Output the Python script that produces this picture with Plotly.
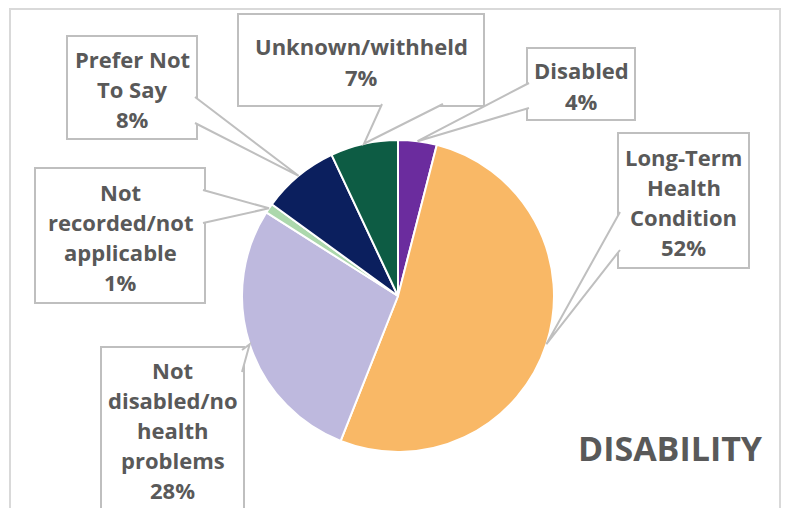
import math
import plotly.graph_objects as go

# ---- data ----
labels = ["Disabled", "Long-Term Health Condition", "Not disabled/no health problems",
          "Not recorded/not applicable", "Prefer Not To Say", "Unknown/withheld"]
box_lines = [["Disabled", "4%"],
             ["Long-Term", "Health", "Condition", "52%"],
             ["Not", "disabled/no", "health", "problems", "28%"],
             ["Not", "recorded/not", "applicable", "1%"],
             ["Prefer Not", "To Say", "8%"],
             ["Unknown/withheld", "7%"]]
values = [4, 52, 28, 1, 8, 7]
colors = ["#6B2C9E", "#F9B866", "#BEB9DE", "#ACD8AC", "#0B1F5E", "#0D5C44"]
title_text = "DISABILITY"

# ---- layout (pixels) ----
W, H = 789, 508
CX, CY, R = 398, 296, 156
LINE_GAP = 30.2

def px(x, y):
    return x / W, 1 - y / H

# boxes: (x0, y0, x1, y1), wedge base points on box edge, inward offset direction
boxes = [
    ((527, 48, 635, 120), ((527, 83), (527, 108)), (1, 0)),
    ((618, 133, 749, 268), ((618, 212), (618, 250)), (1, 0)),
    ((101, 347, 244, 510), ((244, 350), (244, 372)), (-1, 0)),
    ((35, 168, 205, 303), ((205, 190), (205, 223)), (-1, 0)),
    ((67, 36, 197, 139), ((197, 97), (197, 123)), (-1, 0)),
    ((238, 14, 484, 106), ((382, 106), (443, 106)), (0, -1)),
]

dx0, dy_bottom = px(CX - R, CY + R)
dx1, dy_top = px(CX + R, CY - R)

fig = go.Figure(go.Pie(
    labels=labels, values=values, sort=False, direction="clockwise", rotation=0,
    marker=dict(colors=colors, line=dict(color="white", width=2)),
    textinfo="none", hoverinfo="label+percent", showlegend=False,
    domain=dict(x=[dx0, dx1], y=[dy_bottom, dy_top]),
))

shapes = []
# outer frame
fx0, fy0 = px(10, 9)
fx1, fy1 = px(780, 530)
shapes.append(dict(type="rect", xref="paper", yref="paper", x0=fx0, y0=fy1, x1=fx1, y1=fy0,
                   line=dict(color="#D9D9D9", width=2), fillcolor="rgba(0,0,0,0)", layer="below"))

annotations = []
total = sum(values)
cum = 0
for i, v in enumerate(values):
    mid = (cum + v / 2) / total * 2 * math.pi
    cum += v
    tx = CX + R * math.sin(mid)
    ty = CY - R * math.cos(mid)
    (bx0, by0, bx1, by1), (b1, b2), (ddx, ddy) = boxes[i]
    # box
    a, b = px(bx0, by0)
    c, d = px(bx1, by1 + 15 if by1 > 500 else by1)
    shapes.append(dict(type="rect", xref="paper", yref="paper", x0=a, y0=d, x1=c, y1=b,
                       line=dict(color="#BFBFBF", width=2), fillcolor="white", layer="above"))
    # wedge
    p1 = px(b1[0] + 2 * ddx, b1[1] + 2 * ddy)
    p2 = px(b2[0] + 2 * ddx, b2[1] + 2 * ddy)
    pt = px(tx, ty)
    path = f"M {p1[0]},{p1[1]} L {pt[0]},{pt[1]} L {p2[0]},{p2[1]}"
    shapes.append(dict(type="path", xref="paper", yref="paper", path=path,
                       line=dict(color="#BFBFBF", width=2), fillcolor="white", layer="above"))
    lines = box_lines[i]
    n = len(lines)
    cxb = (bx0 + bx1) / 2
    cyb = (by0 + by1) / 2 + 1.5
    for k, line in enumerate(lines):
        ly = cyb + (k - (n - 1) / 2) * LINE_GAP
        xp, yp = px(cxb, ly)
        annotations.append(dict(text=line, x=xp, y=yp, xref="paper", yref="paper",
                                xanchor="center", yanchor="middle", showarrow=False,
                                font=dict(family="Open Sans", size=22, color="#595959", weight=700)))

tx_, ty_ = px(670, 448)
annotations.append(dict(text=title_text, x=tx_, y=ty_, xref="paper", yref="paper",
                        xanchor="center", yanchor="middle", showarrow=False,
                        font=dict(family="Open Sans", size=34, color="#595959", weight=700)))

fig.update_layout(width=W, height=H, margin=dict(l=0, r=0, t=0, b=0),
                  paper_bgcolor="white", plot_bgcolor="white",
                  shapes=shapes, annotations=annotations)

fig.write_html("out.html")
